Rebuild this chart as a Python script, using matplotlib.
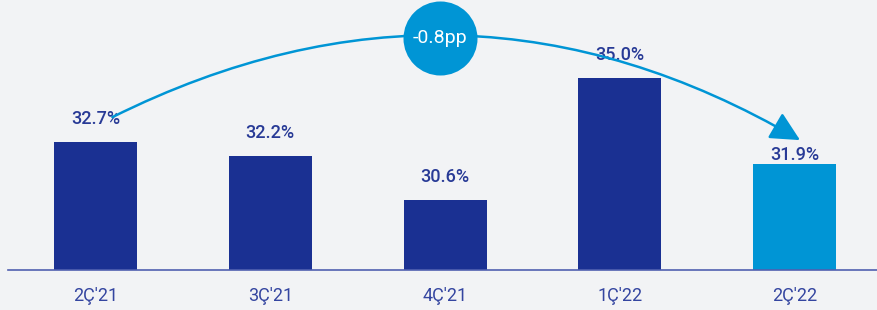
import matplotlib.pyplot as plt

# data
quarters = ["2Ç'21", "3Ç'21", "4Ç'21", "1Ç'22", "2Ç'22"]
values = [32.7, 32.2, 30.6, 35.0, 31.9]
value_labels = ["32.7%", "32.2%", "30.6%", "35.0%", "31.9%"]
change_label = "-0.8pp"

DARK = "#1a3092"
LIGHT = "#0095d5"
TEXT = "#283a96"
BG = "#f2f3f5"

plt.rcParams['font.family'] = ['Roboto', 'DejaVu Sans']

fig = plt.figure(figsize=(8.77, 3.1), dpi=100, facecolor=BG)
ax = fig.add_axes([8 / 877, 40 / 310, 1 - 8 / 877, 270 / 310])
ax.set_facecolor(BG)

x = list(range(len(values)))
colors = [DARK] * (len(values) - 1) + [LIGHT]
ax.bar(x, values, width=0.475, color=colors, zorder=2, bottom=0)

ax.set_xlim(-0.5, 4.47)
ax.set_ylim(28.07, 37.82)

# value labels
offsets = [0.5, 0.5, 0.5, 0.5, 0.0]
for xi, v, lab, off in zip(x, values, value_labels, offsets):
    ax.text(xi, v + off, lab, ha="center", va="bottom", color=TEXT,
            fontsize=13, fontweight="medium", zorder=3)

# arc arrow from first to last
ax.annotate("", xy=(4.03, 32.76), xytext=(0.097, 33.59),
            arrowprops=dict(arrowstyle="-|>,head_length=1.0,head_width=0.5",
                            mutation_scale=18, color=LIGHT, lw=1.8,
                            shrinkA=0, shrinkB=0,
                            connectionstyle="arc3,rad=-0.27"),
            zorder=4, annotation_clip=False)

# change bubble
ax.scatter([1.971], [36.45], s=2840, color=LIGHT, zorder=5, clip_on=False,
           linewidths=0)
ax.text(1.971, 36.45, change_label, ha="center", va="center", color="white",
        fontsize=14, zorder=6)

# axes styling
for s in ["top", "right", "left"]:
    ax.spines[s].set_visible(False)
ax.spines["bottom"].set_color("#5060b0")
ax.spines["bottom"].set_linewidth(1.2)
ax.set_yticks([])
ax.set_xticks(x)
ax.set_xticklabels(quarters, color="#3445a0", fontsize=13)
ax.tick_params(axis="x", length=0, pad=12)

fig.savefig("out.png", dpi=100, facecolor=BG)
